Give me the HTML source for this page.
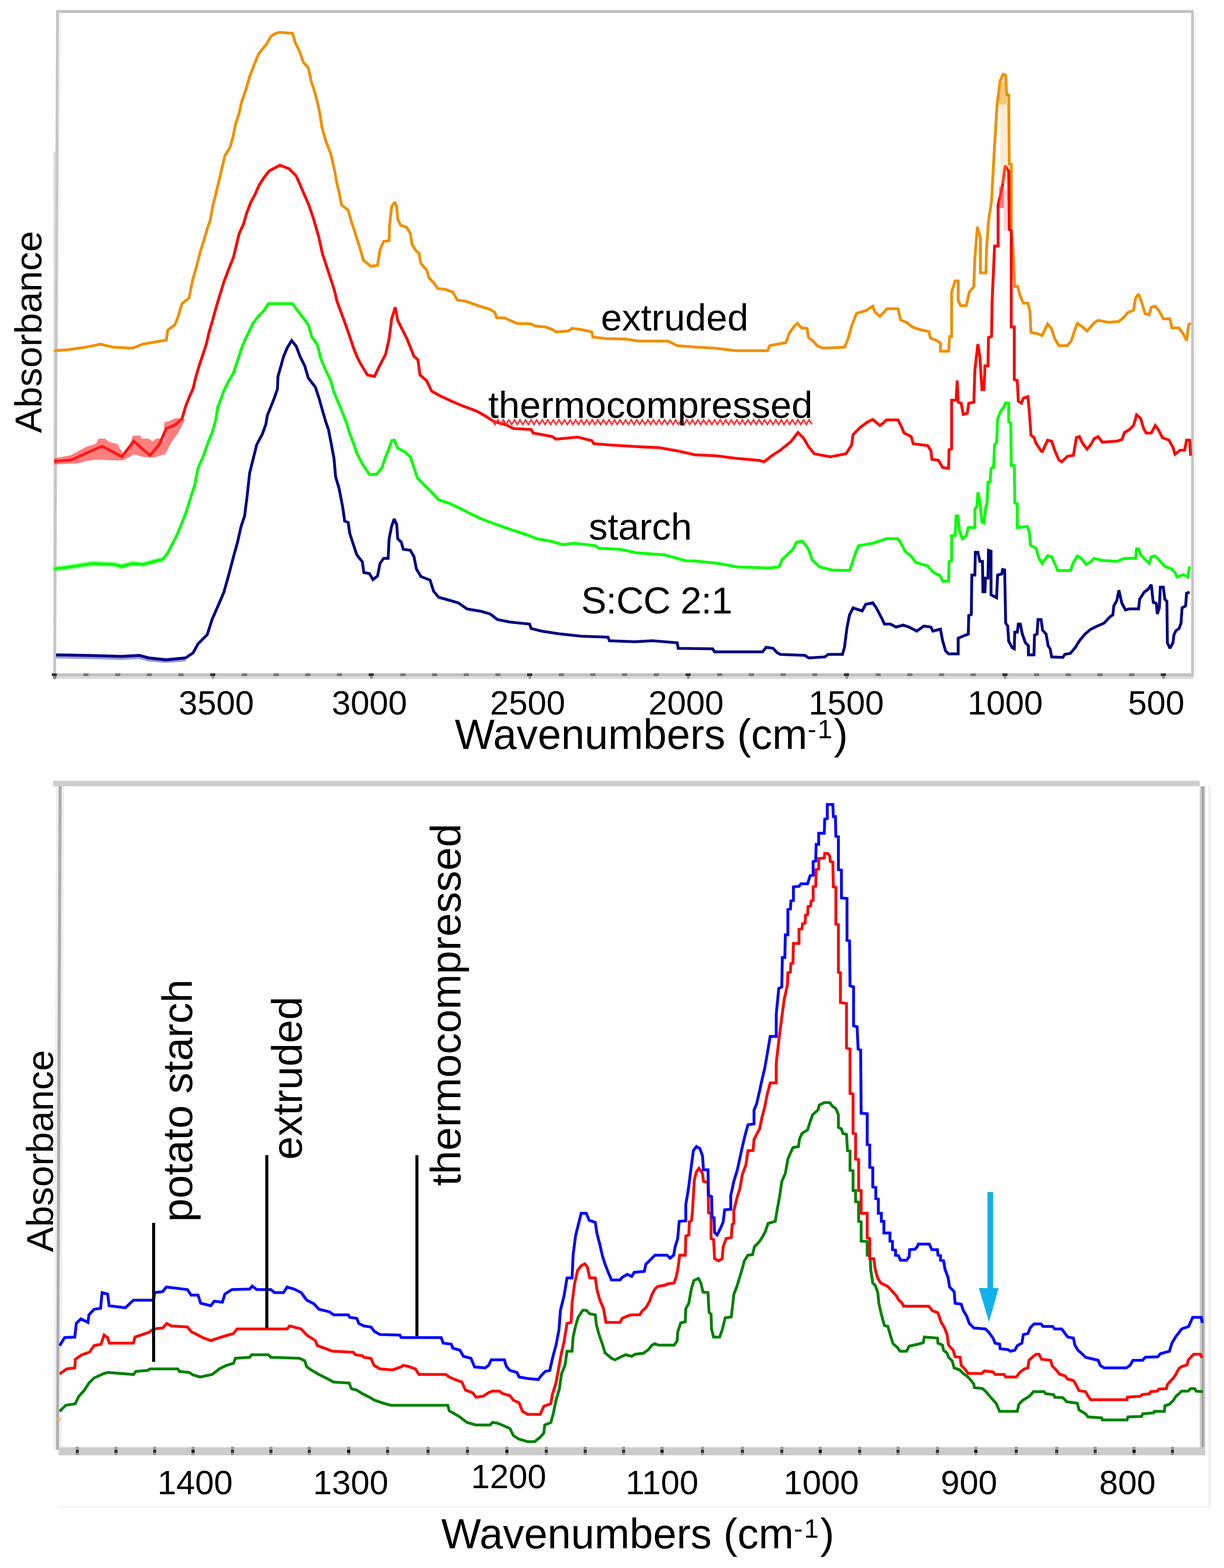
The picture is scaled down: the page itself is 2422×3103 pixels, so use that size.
<!DOCTYPE html>
<html><head><meta charset="utf-8"><title>FTIR spectra</title>
<style>
html,body{margin:0;padding:0;background:#fff;}
body{width:2422px;height:3103px;overflow:hidden;}
svg{display:block;}
text{font-family:'Liberation Sans', Arial, sans-serif;fill:#000;}
</style></head><body>
<svg width="2422" height="3103" viewBox="0 0 2422 3103">
<rect x="0" y="0" width="2422" height="3103" fill="#fff"/>
<rect x="111" y="20" width="2251" height="5.5" fill="#c0c0c0"/>
<polygon points="116.5,25 121,25 116,700 111.5,700" fill="#f2f2f2"/>
<polygon points="105.5,300 111,300 111,1343 105.5,1343" fill="#e2e2e2"/>
<polygon points="111,20 116.5,20 111,1343 105.5,1343" fill="#c6c6c6"/>
<rect x="2357" y="20" width="5" height="1318" fill="#c4c4c4"/>
<rect x="2362" y="25" width="5" height="1313" fill="#f4f4f4"/>
<rect x="105" y="1332.5" width="2257" height="5.5" fill="#c0c0c0"/>
<rect x="105" y="1338" width="2257" height="5.5" fill="#dadada"/>
<rect x="105" y="1338" width="6" height="5.5" fill="#111"/>
<rect x="102.5" y="1332.5" width="10" height="5.5" fill="#333"/>
<rect x="105.5" y="1338" width="5" height="5.5" fill="#999"/>
<rect x="165.2" y="1332.5" width="10" height="5.5" fill="#777"/>
<rect x="227.9" y="1332.5" width="10" height="5.5" fill="#777"/>
<rect x="290.6" y="1332.5" width="10" height="5.5" fill="#777"/>
<rect x="353.3" y="1332.5" width="10" height="5.5" fill="#777"/>
<rect x="416.0" y="1332.5" width="10" height="5.5" fill="#333"/>
<rect x="419.0" y="1338" width="5" height="5.5" fill="#999"/>
<rect x="478.7" y="1332.5" width="10" height="5.5" fill="#777"/>
<rect x="541.4" y="1332.5" width="10" height="5.5" fill="#777"/>
<rect x="604.1" y="1332.5" width="10" height="5.5" fill="#777"/>
<rect x="666.8" y="1332.5" width="10" height="5.5" fill="#777"/>
<rect x="729.5" y="1332.5" width="10" height="5.5" fill="#333"/>
<rect x="732.5" y="1338" width="5" height="5.5" fill="#999"/>
<rect x="792.2" y="1332.5" width="10" height="5.5" fill="#777"/>
<rect x="854.9" y="1332.5" width="10" height="5.5" fill="#777"/>
<rect x="917.6" y="1332.5" width="10" height="5.5" fill="#777"/>
<rect x="980.3" y="1332.5" width="10" height="5.5" fill="#777"/>
<rect x="1043.0" y="1332.5" width="10" height="5.5" fill="#333"/>
<rect x="1046.0" y="1338" width="5" height="5.5" fill="#999"/>
<rect x="1105.7" y="1332.5" width="10" height="5.5" fill="#777"/>
<rect x="1168.4" y="1332.5" width="10" height="5.5" fill="#777"/>
<rect x="1231.1" y="1332.5" width="10" height="5.5" fill="#777"/>
<rect x="1293.8" y="1332.5" width="10" height="5.5" fill="#777"/>
<rect x="1356.5" y="1332.5" width="10" height="5.5" fill="#333"/>
<rect x="1359.5" y="1338" width="5" height="5.5" fill="#999"/>
<rect x="1419.2" y="1332.5" width="10" height="5.5" fill="#777"/>
<rect x="1481.9" y="1332.5" width="10" height="5.5" fill="#777"/>
<rect x="1544.6" y="1332.5" width="10" height="5.5" fill="#777"/>
<rect x="1607.3" y="1332.5" width="10" height="5.5" fill="#777"/>
<rect x="1670.0" y="1332.5" width="10" height="5.5" fill="#333"/>
<rect x="1673.0" y="1338" width="5" height="5.5" fill="#999"/>
<rect x="1732.7" y="1332.5" width="10" height="5.5" fill="#777"/>
<rect x="1795.4" y="1332.5" width="10" height="5.5" fill="#777"/>
<rect x="1858.1" y="1332.5" width="10" height="5.5" fill="#777"/>
<rect x="1920.8" y="1332.5" width="10" height="5.5" fill="#777"/>
<rect x="1983.5" y="1332.5" width="10" height="5.5" fill="#333"/>
<rect x="1986.5" y="1338" width="5" height="5.5" fill="#999"/>
<rect x="2046.2" y="1332.5" width="10" height="5.5" fill="#777"/>
<rect x="2108.9" y="1332.5" width="10" height="5.5" fill="#777"/>
<rect x="2171.6" y="1332.5" width="10" height="5.5" fill="#777"/>
<rect x="2234.3" y="1332.5" width="10" height="5.5" fill="#777"/>
<rect x="2297.0" y="1332.5" width="10" height="5.5" fill="#333"/>
<rect x="2300.0" y="1338" width="5" height="5.5" fill="#999"/>
<polyline points="107,694 135,692 170,687 199,681 223,687 262,689 283,681 311,676 329,673 332,653 346,643 353,625 360,601 374,590 381,555 389,527 396,499 403,477 410,453 416,436 421,408 427,384 433,359 438,338 445,308 455,292 461,271 466,246 473,225 478,202 487,176 494,151 505,123 512,106 527,88 536,72 545,66 554,64 579,66 584,84 593,102 600,123 610,134 616,162 622,179 628,202 633,225 637,252 645,280 654,303 661,332 666,360 671,381 676,406 689,416 696,441 701,455 706,472 712,490 719,515 734,527 747,525 752,494 759,478 770,476 771,444 775,409 781,400 785,409 787,434 793,446 805,450 812,462 815,483 822,495 829,501 833,522 844,534 849,550 858,559 866,571 882,573 896,578 905,594 921,596 935,601 949,606 967,611 979,618 983,629 998,629 1009,634 1023,640 1051,641 1058,645 1079,647 1093,652 1100,657 1125,655 1132,650 1150,652 1171,657 1173,667 1199,670 1238,671 1263,675 1322,675 1340,684 1379,687 1414,689 1456,694 1519,694 1523,684 1555,678 1562,659 1572,645 1578,640 1586,649 1597,650 1600,668 1611,677 1618,685 1629,689 1671,687 1678,671 1685,645 1695,620 1713,615 1727,606 1731,617 1741,626 1748,619 1755,611 1777,611 1782,633 1794,638 1805,647 1819,652 1838,656 1841,669 1852,673 1861,679 1861,695 1877,695 1879,666 1883,666 1883,578 1890,556 1896,556 1896,595 1901,605 1912,605 1918,578 1927,567 1929,511 1934,449 1940,471 1940,540 1951,540 1952,493 1956,438 1962,398 1967,306 1973,207 1979,160 1985,147 1990,149 1992,188 1996,188 1997,325 2001,325 2001,454 2005,501 2008,567 2014,567 2018,584 2025,600 2034,600 2038,616 2040,658 2052,660 2062,664 2073,641 2081,651 2087,670 2095,684 2112,684 2120,674 2126,655 2132,640 2142,647 2151,655 2165,639 2173,634 2194,638 2214,636 2225,627 2231,619 2243,614 2247,590 2253,582 2259,598 2266,621 2274,623 2278,608 2286,606 2294,616 2302,631 2315,631 2319,649 2333,649 2342,662 2348,674 2352,643 2356,639" fill="none" stroke="#f09000" stroke-width="5.6" stroke-linejoin="miter" stroke-miterlimit="2" />
<polyline points="107,913 142,910 170,897 202,883 223,894 241,904 265,873 283,890 297,901 315,880 329,848 346,841 360,829 367,805 374,787 382,769 387,748 394,724 401,703 408,682 413,660 420,636 427,611 434,587 443,558 452,534 462,509 468,484 473,463 482,443 488,422 496,401 505,384 513,366 522,352 533,338 554,327 572,334 586,348 594,366 603,387 612,408 621,435 631,470 638,502 645,523 654,551 661,572 667,597 676,621 683,640 692,666 699,687 706,705 713,719 727,742 741,745 752,722 763,701 770,670 775,631 782,608 787,634 794,648 805,670 812,687 819,705 827,712 831,742 844,753 854,774 872,784 896,795 917,804 942,813 960,823 977,834 1002,841 1016,848 1051,850 1055,857 1093,864 1100,869 1143,865 1171,872 1175,878 1213,881 1263,884 1305,886 1344,893 1375,900 1417,902 1456,907 1502,911 1512,914 1527,902 1544,891 1565,874 1579,856 1590,867 1600,884 1611,898 1643,904 1674,898 1685,881 1688,860 1702,846 1717,835 1727,830 1741,842 1748,837 1754,831 1777,831 1783,843 1789,857 1803,864 1807,878 1836,882 1842,892 1844,909 1857,911 1865,925 1877,927 1878,890 1883,888 1883,792 1892,792 1894,753 1896,796 1902,798 1906,820 1914,818 1917,798 1927,796 1929,732 1935,681 1939,707 1943,771 1947,771 1949,724 1955,724 1956,668 1962,666 1963,600 1968,487 1975,487 1975,405 1983,372 1989,328 1996,339 1997,454 2001,457 2001,647 2007,647 2007,751 2013,753 2015,794 2021,798 2025,788 2034,785 2037,818 2040,861 2046,866 2050,877 2062,895 2073,871 2081,873 2087,891 2095,910 2101,914 2112,903 2124,901 2130,866 2136,864 2142,877 2151,889 2159,879 2165,868 2173,864 2181,875 2210,873 2220,870 2225,856 2235,850 2243,842 2249,821 2257,828 2263,848 2268,857 2278,857 2286,842 2292,850 2300,866 2313,871 2321,885 2325,899 2335,891 2344,891 2348,871 2354,871 2356,902" fill="none" stroke="#ff0000" stroke-width="5.6" stroke-linejoin="miter" stroke-miterlimit="2" />
<polygon points="107,907 139,901 162,889 169,885 190,878 195,868 208,868 215,874 233,879 238,889 243,896 253,891 263,862 277,862 281,868 294,868 302,874 309,868 318,868 325,873 325,835 333,834 346,828 361,827 366,831 351,859 338,877 327,899 305,905 286,905 264,899 256,905 243,911 225,911 202,910 189,910 172,912 154,917 107,919" fill="#ff2828" fill-opacity="0.6"/>
<polyline points="106,1126 139,1122 163,1118 184,1115 227,1117 241,1121 262,1115 283,1117 301,1112 322,1107" fill="none" stroke="#40ff40" stroke-width="11" stroke-linejoin="miter" stroke-miterlimit="2" stroke-opacity="0.45"/>
<polyline points="106,1126 139,1122 163,1118 184,1115 227,1117 241,1121 262,1115 283,1117 301,1112 322,1107 332,1094 339,1080 350,1059 357,1042 367,1017 378,982 385,961 392,926 403,901 410,880 420,855 427,831 431,805 438,787 443,773 452,755 462,738 469,717 477,692 484,674 491,660 501,639 512,625 522,615 531,601 579,601 586,611 600,629 610,643 617,667 628,682 635,710 645,734 654,752 661,777 667,791 677,815 686,838 692,858 699,876 706,897 717,918 731,939 745,939 756,925 763,904 770,887 775,872 780,871 787,887 801,894 812,904 819,925 826,946 840,960 854,974 868,989 889,996 910,1006 932,1017 953,1027 977,1036 1002,1045 1023,1052 1044,1059 1062,1066 1090,1071 1114,1078 1136,1075 1178,1080 1185,1085 1227,1087 1259,1094 1315,1098 1340,1105 1358,1110 1375,1110 1421,1115 1460,1122 1523,1124 1541,1122 1548,1107 1569,1087 1576,1073 1588,1071 1600,1087 1607,1108 1622,1122 1646,1128 1681,1129 1687,1112 1694,1091 1699,1080 1727,1075 1754,1066 1777,1066 1783,1076 1791,1091 1803,1101 1812,1113 1836,1120 1846,1132 1861,1140 1865,1150 1877,1150 1878,1111 1883,1109 1883,1060 1890,1060 1892,1021 1896,1021 1898,1048 1904,1066 1912,1060 1916,1044 1929,1044 1929,1007 1933,1003 1935,974 1939,992 1943,1033 1947,1035 1951,1001 1953,997 1955,954 1959,954 1961,927 1966,925 1968,880 1972,876 1974,829 1980,814 1986,806 1990,797 1996,798 1996,835 2000,837 2001,921 2007,921 2008,995 2013,997 2013,1044 2033,1042 2037,1054 2039,1079 2050,1085 2056,1105 2062,1115 2073,1100 2081,1102 2087,1115 2093,1129 2118,1129 2124,1113 2132,1100 2140,1105 2149,1117 2157,1113 2165,1105 2181,1109 2210,1111 2225,1105 2247,1105 2249,1086 2253,1086 2257,1098 2266,1107 2274,1115 2278,1102 2286,1100 2296,1111 2305,1121 2317,1125 2325,1133 2329,1142 2342,1137 2350,1142 2354,1121" fill="none" stroke="#00ff00" stroke-width="5.6" stroke-linejoin="miter" stroke-miterlimit="2" />
<polyline points="111,1298 170,1299 241,1301 276,1299 294,1304 329,1307 367,1304" fill="none" stroke="#2020a0" stroke-width="10" stroke-linejoin="miter" stroke-miterlimit="2" stroke-opacity="0.45"/>
<polyline points="111,1296 170,1297 241,1299 276,1297 294,1302 329,1306 367,1302 382,1292 392,1274 410,1256 420,1225 431,1200 443,1172 452,1140 462,1102 470,1073 477,1042 484,1021 489,982 494,936 501,908 508,880 519,859 526,840 529,822 536,805 543,787 549,770 550,745 556,724 561,706 568,689 577,674 586,685 594,706 603,724 610,748 624,766 631,787 638,812 645,836 650,850 655,876 661,908 664,943 671,967 678,1003 682,1031 689,1034 692,1055 699,1077 706,1098 717,1112 720,1133 731,1135 738,1147 747,1140 752,1115 759,1105 768,1105 770,1066 775,1041 780,1027 785,1038 787,1066 794,1073 798,1087 812,1089 819,1101 824,1126 833,1141 851,1148 858,1170 868,1182 886,1187 907,1193 924,1205 953,1210 970,1215 984,1226 1009,1231 1048,1235 1051,1244 1072,1249 1104,1254 1150,1259 1203,1261 1206,1268 1256,1270 1291,1268 1340,1272 1342,1283 1410,1284 1414,1290 1509,1290 1516,1281 1530,1283 1537,1291 1544,1295 1593,1297 1600,1302 1632,1300 1639,1295 1667,1295 1671,1281 1676,1242 1681,1217 1688,1203 1706,1209 1713,1196 1727,1193 1734,1203 1745,1224 1750,1235 1762,1235 1773,1241 1787,1237 1799,1241 1814,1249 1828,1239 1842,1241 1846,1249 1861,1245 1865,1267 1871,1288 1877,1294 1896,1294 1896,1263 1910,1257 1916,1255 1917,1218 1922,1216 1923,1138 1929,1138 1930,1093 1935,1093 1939,1111 1944,1111 1945,1171 1949,1171 1950,1144 1955,1144 1956,1089 1961,1091 1961,1177 1972,1183 1974,1138 1982,1136 1984,1127 1988,1128 1990,1233 1994,1239 1996,1269 2003,1282 2007,1284 2008,1251 2013,1251 2015,1235 2019,1235 2023,1255 2029,1272 2035,1278 2035,1296 2046,1296 2047,1257 2052,1255 2054,1226 2060,1226 2063,1247 2070,1255 2074,1278 2078,1284 2081,1300 2103,1301 2107,1295 2118,1293 2128,1281 2136,1268 2146,1256 2157,1246 2169,1240 2185,1233 2196,1221 2202,1217 2204,1199 2210,1188 2214,1168 2220,1194 2227,1207 2235,1205 2253,1205 2255,1186 2264,1172 2272,1166 2278,1157 2282,1192 2288,1194 2290,1215 2294,1203 2296,1162 2302,1162 2305,1186 2309,1190 2310,1272 2315,1283 2321,1272 2323,1256 2327,1248 2333,1244 2337,1233 2339,1203 2346,1199 2348,1174 2354,1172" fill="none" stroke="#000080" stroke-width="5.6" stroke-linejoin="miter" stroke-miterlimit="2" />
<rect x="1977" y="160" width="15" height="47" fill="#f0a020" fill-opacity="0.6"/>
<rect x="1979" y="207" width="14" height="157" fill="#f8c880" fill-opacity="0.35"/>
<rect x="1977" y="369" width="9" height="43" fill="#ff4040" fill-opacity="0.7"/>
<rect x="1986" y="375" width="7" height="82" fill="#ff8080" fill-opacity="0.35"/>
<polyline points="974,831 979.5,840 985.0,831 990.5,840 996.0,831 1001.5,840 1007.0,831 1012.5,840 1018.0,831 1023.5,840 1029.0,831 1034.5,840 1040.0,831 1045.5,840 1051.0,831 1056.5,840 1062.0,831 1067.5,840 1073.0,831 1078.5,840 1084.0,831 1089.5,840 1095.0,831 1100.5,840 1106.0,831 1111.5,840 1117.0,831 1122.5,840 1128.0,831 1133.5,840 1139.0,831 1144.5,840 1150.0,831 1155.5,840 1161.0,831 1166.5,840 1172.0,831 1177.5,840 1183.0,831 1188.5,840 1194.0,831 1199.5,840 1205.0,831 1210.5,840 1216.0,831 1221.5,840 1227.0,831 1232.5,840 1238.0,831 1243.5,840 1249.0,831 1254.5,840 1260.0,831 1265.5,840 1271.0,831 1276.5,840 1282.0,831 1287.5,840 1293.0,831 1298.5,840 1304.0,831 1309.5,840 1315.0,831 1320.5,840 1326.0,831 1331.5,840 1337.0,831 1342.5,840 1348.0,831 1353.5,840 1359.0,831 1364.5,840 1370.0,831 1375.5,840 1381.0,831 1386.5,840 1392.0,831 1397.5,840 1403.0,831 1408.5,840 1414.0,831 1419.5,840 1425.0,831 1430.5,840 1436.0,831 1441.5,840 1447.0,831 1452.5,840 1458.0,831 1463.5,840 1469.0,831 1474.5,840 1480.0,831 1485.5,840 1491.0,831 1496.5,840 1502.0,831 1507.5,840 1513.0,831 1518.5,840 1524.0,831 1529.5,840 1535.0,831 1540.5,840 1546.0,831 1551.5,840 1557.0,831 1562.5,840 1568.0,831 1573.5,840 1579.0,831 1584.5,840 1590.0,831 1595.5,840 1601.0,831 1606.5,840" fill="none" stroke="#ff3030" stroke-width="3.2" stroke-linejoin="miter" stroke-miterlimit="2" />
<text x="1189" y="654" font-size="75">extruded</text>
<text x="966" y="827" font-size="75">thermocompressed</text>
<text x="1165" y="1068" font-size="75">starch</text>
<text x="1150" y="1214" font-size="75" letter-spacing="-0.7">S:CC 2:1</text>
<text transform="translate(82,857) rotate(-90)" font-size="75">Absorbance</text>
<text x="428" y="1414" font-size="67" text-anchor="middle">3500</text>
<text x="731" y="1414" font-size="67" text-anchor="middle">3000</text>
<text x="1044" y="1414" font-size="67" text-anchor="middle">2500</text>
<text x="1357.5" y="1414" font-size="67" text-anchor="middle">2000</text>
<text x="1674.5" y="1414" font-size="67" text-anchor="middle">1500</text>
<text x="1989" y="1414" font-size="67" text-anchor="middle">1000</text>
<text x="2288" y="1414" font-size="67" text-anchor="middle">500</text>
<text x="900" y="1482" font-size="83.5">Wavenumbers (cm</text>
<text x="1598" y="1461" font-size="52">-</text>
<text x="1618" y="1461" font-size="52">1</text>
<text x="1650" y="1482" font-size="83.5">)</text>
<rect x="105" y="1545" width="2269" height="11" fill="#cdcdcd"/>
<polygon points="111,1556 127,1556 122,2869 106,2869" fill="#efefef"/>
<polygon points="116,1556 122,1556 116.5,2869 111,2869" fill="#adadad"/>
<rect x="2374" y="1556" width="11" height="1324" fill="#cccccc"/>
<rect x="2378" y="1556" width="4" height="1324" fill="#a0a0a0"/>
<rect x="2391" y="1556" width="5" height="1428" fill="#f0f0f0"/>
<rect x="116" y="2864" width="2269" height="16" fill="#cccccc"/>
<rect x="116" y="2980" width="2275" height="4" fill="#f6f6f6"/>
<rect x="150.0" y="2863" width="6" height="16.5" fill="#9a9a9a"/>
<rect x="150.0" y="2869" width="6" height="6" fill="#333"/>
<rect x="226.5" y="2863" width="6" height="16.5" fill="#9a9a9a"/>
<rect x="226.5" y="2869" width="6" height="6" fill="#333"/>
<rect x="303.0" y="2863" width="6" height="16.5" fill="#9a9a9a"/>
<rect x="303.0" y="2869" width="6" height="6" fill="#333"/>
<rect x="379.0" y="2863" width="6" height="16.5" fill="#9a9a9a"/>
<rect x="379.0" y="2869" width="6" height="6" fill="#000"/>
<rect x="457.0" y="2863" width="6" height="16.5" fill="#9a9a9a"/>
<rect x="457.0" y="2869" width="6" height="6" fill="#333"/>
<rect x="533.0" y="2863" width="6" height="16.5" fill="#9a9a9a"/>
<rect x="533.0" y="2869" width="6" height="6" fill="#333"/>
<rect x="609.0" y="2863" width="6" height="16.5" fill="#9a9a9a"/>
<rect x="609.0" y="2869" width="6" height="6" fill="#333"/>
<rect x="687.0" y="2863" width="6" height="16.5" fill="#9a9a9a"/>
<rect x="687.0" y="2869" width="6" height="6" fill="#000"/>
<rect x="764.0" y="2863" width="6" height="16.5" fill="#9a9a9a"/>
<rect x="764.0" y="2869" width="6" height="6" fill="#333"/>
<rect x="844.0" y="2863" width="6" height="16.5" fill="#9a9a9a"/>
<rect x="844.0" y="2869" width="6" height="6" fill="#333"/>
<rect x="922.0" y="2863" width="6" height="16.5" fill="#9a9a9a"/>
<rect x="922.0" y="2869" width="6" height="6" fill="#333"/>
<rect x="1000.0" y="2863" width="6" height="16.5" fill="#9a9a9a"/>
<rect x="1000.0" y="2869" width="6" height="6" fill="#000"/>
<rect x="1078.0" y="2863" width="6" height="16.5" fill="#9a9a9a"/>
<rect x="1078.0" y="2869" width="6" height="6" fill="#333"/>
<rect x="1155.0" y="2863" width="6" height="16.5" fill="#9a9a9a"/>
<rect x="1155.0" y="2869" width="6" height="6" fill="#333"/>
<rect x="1231.0" y="2863" width="6" height="16.5" fill="#9a9a9a"/>
<rect x="1231.0" y="2869" width="6" height="6" fill="#333"/>
<rect x="1307.0" y="2863" width="6" height="16.5" fill="#9a9a9a"/>
<rect x="1307.0" y="2869" width="6" height="6" fill="#000"/>
<rect x="1387.0" y="2863" width="6" height="16.5" fill="#9a9a9a"/>
<rect x="1387.0" y="2869" width="6" height="6" fill="#333"/>
<rect x="1466.0" y="2863" width="6" height="16.5" fill="#9a9a9a"/>
<rect x="1466.0" y="2869" width="6" height="6" fill="#333"/>
<rect x="1544.0" y="2863" width="6" height="16.5" fill="#9a9a9a"/>
<rect x="1544.0" y="2869" width="6" height="6" fill="#333"/>
<rect x="1620.0" y="2863" width="6" height="16.5" fill="#9a9a9a"/>
<rect x="1620.0" y="2869" width="6" height="6" fill="#000"/>
<rect x="1698.0" y="2863" width="6" height="16.5" fill="#9a9a9a"/>
<rect x="1698.0" y="2869" width="6" height="6" fill="#333"/>
<rect x="1774.0" y="2863" width="6" height="16.5" fill="#9a9a9a"/>
<rect x="1774.0" y="2869" width="6" height="6" fill="#333"/>
<rect x="1852.0" y="2863" width="6" height="16.5" fill="#9a9a9a"/>
<rect x="1852.0" y="2869" width="6" height="6" fill="#333"/>
<rect x="1928.0" y="2863" width="6" height="16.5" fill="#9a9a9a"/>
<rect x="1928.0" y="2869" width="6" height="6" fill="#000"/>
<rect x="2008.0" y="2863" width="6" height="16.5" fill="#9a9a9a"/>
<rect x="2008.0" y="2869" width="6" height="6" fill="#333"/>
<rect x="2088.0" y="2863" width="6" height="16.5" fill="#9a9a9a"/>
<rect x="2088.0" y="2869" width="6" height="6" fill="#333"/>
<rect x="2164.0" y="2863" width="6" height="16.5" fill="#9a9a9a"/>
<rect x="2164.0" y="2869" width="6" height="6" fill="#333"/>
<rect x="2241.0" y="2863" width="6" height="16.5" fill="#9a9a9a"/>
<rect x="2241.0" y="2869" width="6" height="6" fill="#000"/>
<rect x="2317.0" y="2863" width="6" height="16.5" fill="#9a9a9a"/>
<rect x="2317.0" y="2869" width="6" height="6" fill="#333"/>
<polyline points="118,2793 130,2781 149,2778 156,2763 167,2751 176,2737 186,2727 206,2718 213,2716 264,2720 269,2714 292,2712 297,2709 352,2709 355,2714 374,2716 382,2721 396,2725 420,2720 434,2709 448,2702 462,2698 466,2688 494,2686 498,2681 531,2681 536,2686 593,2688 603,2693 607,2705 617,2712 631,2720 645,2727 660,2735 691,2737 695,2748 706,2751 717,2758 731,2765 741,2771 756,2776 773,2781 886,2781 889,2792 907,2802 924,2815 942,2820 970,2820 974,2815 983,2816 998,2822 1009,2827 1016,2841 1027,2848 1044,2853 1058,2853 1069,2844 1076,2836 1078,2820 1090,2815 1095,2797 1100,2772 1107,2748 1111,2719 1118,2702 1122,2674 1132,2674 1134,2646 1139,2624 1144,2607 1153,2593 1160,2593 1167,2600 1178,2602 1180,2621 1185,2640 1192,2660 1197,2677 1210,2688 1217,2691 1227,2686 1238,2681 1250,2684 1257,2680 1273,2678 1283,2671 1290,2662 1296,2659 1303,2662 1334,2662 1340,2653 1341,2636 1347,2618 1356,2616 1357,2590 1363,2579 1368,2551 1373,2534 1382,2530 1387,2539 1391,2557 1401,2558 1403,2597 1407,2601 1408,2630 1412,2646 1424,2646 1429,2632 1435,2608 1447,2606 1449,2590 1452,2562 1458,2546 1463,2530 1468,2513 1473,2495 1480,2484 1489,2483 1493,2467 1502,2458 1508,2449 1514,2438 1520,2421 1534,2417 1538,2393 1543,2366 1547,2338 1554,2322 1559,2294 1564,2282 1569,2271 1580,2269 1582,2254 1587,2243 1598,2236 1603,2220 1608,2206 1619,2196 1621,2187 1631,2182 1642,2182 1647,2189 1654,2194 1659,2206 1659,2231 1665,2234 1668,2243 1675,2245 1677,2277 1682,2278 1682,2316 1688,2317 1688,2356 1693,2356 1693,2378 1699,2379 1699,2417 1704,2418 1704,2456 1716,2457 1716,2484 1721,2485 1722,2491 1723,2513 1727,2539 1732,2544 1737,2558 1739,2579 1744,2601 1750,2623 1757,2625 1762,2643 1767,2659 1776,2667 1781,2674 1794,2674 1799,2664 1817,2660 1827,2657 1829,2646 1855,2648 1856,2658 1865,2662 1867,2672 1874,2678 1877,2686 1884,2693 1888,2707 1899,2711 1906,2718 1913,2723 1920,2730 1927,2739 1928,2746 1944,2748 1950,2753 1961,2766 1971,2777 1978,2793 2013,2793 2016,2779 2024,2771 2037,2763 2045,2754 2066,2754 2069,2758 2085,2760 2087,2765 2103,2766 2111,2774 2132,2777 2135,2790 2148,2798 2153,2804 2180,2806 2181,2810 2230,2810 2232,2804 2259,2803 2261,2798 2283,2796 2284,2793 2304,2793 2305,2782 2314,2779 2322,2771 2327,2763 2333,2758 2338,2753 2351,2753 2356,2748 2364,2748 2367,2753 2380,2754" fill="none" stroke="#008000" stroke-width="5.6" stroke-linejoin="miter" stroke-miterlimit="2" />
<polyline points="118,2719 132,2709 148,2707 149,2690 162,2681 177,2676 186,2663 200,2660 206,2642 213,2647 216,2658 264,2658 267,2646 294,2637 304,2630 322,2628 330,2619 339,2624 371,2626 378,2635 399,2646 417,2653 438,2646 462,2639 469,2630 568,2630 573,2624 596,2630 607,2642 624,2653 628,2663 642,2668 658,2674 699,2676 703,2681 717,2683 720,2686 734,2688 740,2702 752,2709 777,2711 794,2705 798,2702 808,2704 822,2709 829,2720 882,2720 889,2725 900,2730 914,2735 921,2751 935,2756 942,2765 956,2763 967,2756 974,2753 988,2753 995,2758 1009,2762 1016,2771 1027,2776 1034,2793 1044,2799 1069,2799 1076,2783 1090,2778 1093,2760 1100,2737 1104,2716 1111,2677 1116,2656 1122,2619 1130,2617 1132,2579 1137,2540 1143,2514 1150,2505 1157,2501 1162,2507 1167,2529 1178,2529 1181,2551 1187,2573 1194,2589 1199,2617 1227,2617 1231,2609 1245,2603 1250,2602 1266,2602 1271,2594 1278,2588 1285,2576 1290,2562 1296,2551 1301,2546 1317,2543 1320,2541 1334,2539 1338,2527 1341,2513 1345,2484 1356,2484 1357,2446 1363,2444 1364,2418 1368,2416 1370,2400 1374,2335 1378,2319 1383,2312 1390,2322 1392,2338 1401,2340 1402,2400 1407,2401 1407,2451 1412,2453 1414,2491 1422,2495 1429,2491 1431,2467 1437,2451 1447,2449 1449,2423 1452,2421 1452,2396 1459,2368 1464,2352 1469,2324 1476,2305 1480,2277 1490,2277 1492,2255 1497,2245 1503,2234 1508,2210 1513,2192 1518,2166 1524,2143 1536,2143 1536,2104 1541,2060 1547,2013 1552,1976 1558,1950 1559,1925 1564,1924 1565,1907 1569,1906 1570,1867 1581,1867 1581,1839 1587,1838 1588,1828 1593,1827 1594,1811 1598,1810 1599,1794 1604,1793 1605,1783 1609,1782 1609,1755 1614,1754 1615,1721 1620,1720 1620,1699 1631,1698 1632,1689 1638,1689 1642,1694 1643,1705 1648,1706 1649,1755 1654,1756 1654,1829 1659,1830 1659,1924 1663,1925 1663,1984 1675,1986 1675,2074 1682,2076 1682,2164 1688,2165 1688,2243 1693,2244 1693,2294 1699,2295 1699,2356 1704,2356 1704,2401 1716,2401 1716,2450 1721,2451 1721,2490 1727,2491 1729,2491 1732,2513 1737,2530 1743,2539 1757,2546 1767,2557 1774,2565 1778,2572 1785,2579 1788,2585 1838,2585 1845,2594 1856,2598 1862,2616 1869,2628 1874,2641 1877,2662 1886,2672 1890,2685 1900,2686 1902,2702 1909,2709 1916,2718 1943,2718 1948,2713 1965,2715 1969,2720 1987,2720 1990,2725 2011,2725 2018,2716 2027,2709 2034,2707 2036,2692 2045,2684 2050,2680 2056,2680 2061,2690 2079,2692 2082,2703 2090,2711 2096,2719 2108,2723 2112,2729 2124,2732 2129,2740 2135,2752 2148,2754 2153,2763 2158,2770 2230,2770 2231,2765 2257,2763 2260,2760 2275,2758 2277,2754 2290,2753 2293,2749 2308,2748 2310,2740 2317,2732 2322,2727 2327,2719 2333,2708 2339,2704 2349,2701 2351,2692 2358,2684 2362,2680 2375,2680 2379,2687" fill="none" stroke="#ff0000" stroke-width="5.6" stroke-linejoin="miter" stroke-miterlimit="2" />
<polyline points="118,2663 128,2647 148,2646 151,2619 160,2610 174,2617 176,2602 186,2591 199,2589 202,2558 213,2561 216,2584 248,2588 264,2573 304,2573 306,2558 322,2556 329,2547 371,2552 378,2563 392,2563 397,2579 417,2584 424,2575 440,2577 445,2561 459,2552 494,2551 499,2545 508,2552 536,2552 543,2558 561,2558 568,2547 582,2551 596,2558 607,2573 621,2580 631,2591 652,2596 660,2602 689,2602 692,2607 706,2609 710,2619 720,2624 734,2626 741,2635 752,2641 791,2642 794,2647 873,2647 877,2658 893,2660 896,2668 910,2672 917,2684 932,2688 939,2705 960,2707 967,2702 972,2691 998,2691 1002,2704 1009,2712 1023,2716 1027,2725 1044,2728 1065,2730 1072,2721 1079,2714 1088,2712 1090,2702 1095,2681 1100,2663 1106,2632 1109,2593 1116,2565 1122,2529 1132,2529 1134,2484 1139,2445 1146,2417 1150,2401 1160,2401 1166,2415 1178,2419 1181,2440 1187,2463 1192,2485 1197,2501 1204,2519 1210,2533 1227,2533 1231,2528 1241,2522 1250,2526 1255,2518 1275,2516 1278,2502 1285,2495 1296,2484 1320,2484 1326,2490 1333,2484 1336,2467 1341,2451 1344,2417 1357,2416 1357,2384 1362,2354 1367,2315 1372,2277 1378,2269 1385,2273 1390,2287 1392,2315 1401,2315 1402,2365 1408,2368 1409,2409 1413,2410 1414,2439 1419,2444 1426,2430 1431,2418 1434,2394 1446,2393 1446,2366 1452,2338 1459,2315 1464,2292 1469,2269 1474,2248 1480,2226 1492,2224 1492,2197 1497,2185 1503,2159 1508,2136 1513,2115 1518,2087 1524,2051 1536,2051 1536,2007 1541,1956 1547,1953 1548,1895 1553,1895 1554,1850 1559,1850 1559,1800 1564,1799 1565,1783 1570,1782 1570,1755 1581,1754 1585,1749 1598,1749 1603,1733 1609,1732 1609,1705 1614,1704 1615,1671 1620,1671 1620,1649 1631,1649 1632,1621 1637,1620 1637,1592 1648,1592 1649,1616 1653,1616 1654,1655 1659,1656 1659,1721 1665,1722 1665,1777 1676,1778 1676,1861 1681,1862 1682,1951 1689,1953 1689,2030 1696,2032 1698,2076 1703,2078 1704,2203 1716,2204 1716,2265 1721,2266 1721,2310 1727,2311 1727,2349 1733,2350 1733,2372 1738,2373 1738,2401 1744,2401 1744,2417 1749,2417 1749,2440 1761,2440 1761,2456 1766,2457 1766,2473 1772,2474 1772,2484 1778,2485 1782,2494 1794,2494 1799,2487 1800,2473 1811,2472 1815,2467 1817,2462 1839,2462 1841,2467 1844,2473 1855,2473 1856,2484 1861,2485 1861,2494 1867,2495 1870,2512 1876,2528 1879,2547 1888,2556 1890,2579 1902,2581 1906,2593 1913,2605 1918,2619 1927,2628 1950,2630 1957,2637 1965,2648 1969,2658 1978,2660 1979,2669 1995,2671 1999,2674 2008,2672 2013,2663 2022,2658 2025,2641 2034,2639 2039,2627 2046,2620 2060,2620 2064,2625 2083,2625 2087,2630 2101,2630 2106,2637 2113,2646 2124,2648 2127,2662 2133,2672 2141,2679 2148,2686 2173,2692 2177,2702 2185,2707 2229,2707 2236,2702 2242,2692 2261,2692 2266,2686 2291,2685 2296,2679 2314,2674 2319,2658 2326,2646 2333,2637 2338,2630 2352,2625 2360,2607 2377,2607 2379,2618" fill="none" stroke="#0000ff" stroke-width="5.6" stroke-linejoin="miter" stroke-miterlimit="2" />
<rect x="115" y="2806" width="6" height="6" fill="#f7c080"/>
<rect x="301" y="2420" width="6" height="275" fill="#000"/>
<rect x="525" y="2286" width="6" height="342" fill="#000"/>
<rect x="822" y="2286" width="6" height="358" fill="#000"/>
<rect x="1954" y="2359" width="11" height="195" fill="#12b0ea"/>
<polygon points="1937,2549 1976,2549 1957,2616" fill="#12b0ea"/>
<text transform="translate(105,2478) rotate(-90)" font-size="75">Absorbance</text>
<text transform="translate(380,2418) rotate(-90)" font-size="83">potato starch</text>
<text transform="translate(597,2295) rotate(-90)" font-size="83">extruded</text>
<text transform="translate(911,2347) rotate(-90)" font-size="83.8">thermocompressed</text>
<text x="386" y="2957" font-size="67" text-anchor="middle">1400</text>
<text x="694" y="2957" font-size="67" text-anchor="middle">1300</text>
<text x="1006.5" y="2945" font-size="67" text-anchor="middle">1200</text>
<text x="1310" y="2957" font-size="67" text-anchor="middle">1100</text>
<text x="1625" y="2957" font-size="67" text-anchor="middle">1000</text>
<text x="1917.5" y="2957" font-size="67" text-anchor="middle">900</text>
<text x="2231" y="2957" font-size="67" text-anchor="middle">800</text>
<text x="873" y="3064" font-size="83.5">Wavenumbers (cm</text>
<text x="1571" y="3043" font-size="52">-</text>
<text x="1591" y="3043" font-size="52">1</text>
<text x="1623" y="3064" font-size="83.5">)</text>
</svg></body></html>
